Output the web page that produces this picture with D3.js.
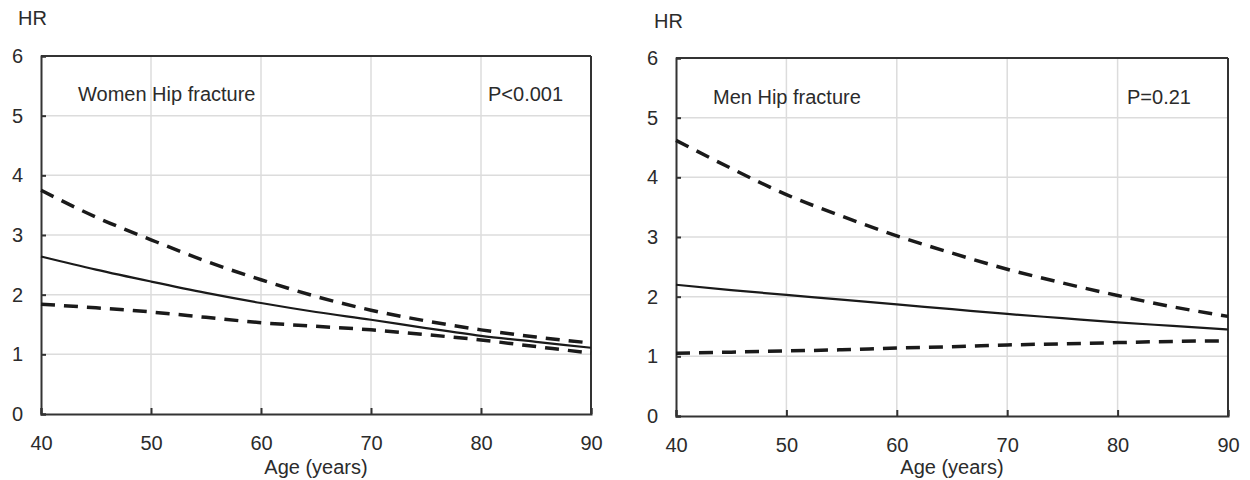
<!DOCTYPE html>
<html><head><meta charset="utf-8">
<script src="https://cdn.jsdelivr.net/npm/d3@7"></script>
<style>body{margin:0;background:#fff;} text{font-family:"Liberation Sans",Arial,sans-serif;fill:#2b2b2b;}</style>
</head><body>
<svg id="c" width="1250" height="480"></svg>
<script>
const ages = [40,45,50,55,60,65,70,75,80,85,90];
const xTicks = [40,50,60,70,80,90];
const yTicks = [0,1,2,3,4,5,6];
const womenHR    = [2.64,2.42,2.22,2.03,1.86,1.71,1.58,1.44,1.31,1.21,1.11];
const womenUpper = [3.75,3.30,2.92,2.56,2.25,1.97,1.74,1.56,1.41,1.29,1.19];
const womenLower = [1.84,1.78,1.71,1.62,1.53,1.47,1.41,1.33,1.24,1.13,1.02];
const menHR      = [2.20,2.11,2.03,1.95,1.87,1.79,1.71,1.64,1.57,1.51,1.45];
const menUpper   = [4.62,4.15,3.71,3.35,3.02,2.73,2.46,2.23,2.02,1.83,1.67];
const menLower   = [1.05,1.07,1.09,1.11,1.14,1.16,1.19,1.21,1.23,1.25,1.26];
const panels = [
  {title:"Women Hip fracture", p:"P<0.001", hr:womenHR, up:womenUpper, lo:womenLower},
  {title:"Men Hip fracture", p:"P=0.21", hr:menHR, up:menUpper, lo:menLower}
];
const layout = [
  {x0:41, x1:591, y0:414, y1:56, hrX:18, hrY:25, titleX:78, titleY:101, pX:488, pY:101},
  {x0:676, x1:1228, y0:416, y1:58, hrX:654, hrY:28, titleX:713, titleY:104, pX:1127, pY:104}
];
const FS = 20;
const svg = d3.select("#c");
panels.forEach((pd,i)=>{
  const L = layout[i];
  const x = d3.scaleLinear().domain([40,90]).range([L.x0,L.x1]);
  const y = d3.scaleLinear().domain([0,6]).range([L.y0,L.y1]);
  const g = svg.append("g");
  g.selectAll(".gx").data(xTicks.slice(1,-1)).join("line")
    .attr("x1",d=>x(d)).attr("x2",d=>x(d)).attr("y1",L.y0).attr("y2",L.y1)
    .attr("stroke","#dcdcdc").attr("stroke-width",1.5);
  g.selectAll(".gy").data(yTicks.slice(1,-1)).join("line")
    .attr("y1",d=>y(d)).attr("y2",d=>y(d)).attr("x1",L.x0).attr("x2",L.x1)
    .attr("stroke","#dcdcdc").attr("stroke-width",1.5);
  const ax = g.append("g").attr("transform",`translate(0,${L.y0})`)
    .call(d3.axisBottom(x).tickValues(xTicks).tickSize(-6).tickPadding(22).tickFormat(d3.format("d")));
  const ay = g.append("g").attr("transform",`translate(${L.x0},0)`)
    .call(d3.axisLeft(y).tickValues(yTicks).tickSize(-5).tickPadding(18).tickFormat(d3.format("d")));
  [ax,ay].forEach(a=>{
    a.attr("font-size",FS).attr("font-family","'Liberation Sans',Arial,sans-serif");
    a.select(".domain").attr("stroke","#333").attr("stroke-width",2);
    a.selectAll(".tick line").attr("stroke","#333").attr("stroke-width",2);
    a.selectAll(".tick text").attr("fill","#2b2b2b");
  });
  g.append("line").attr("x1",L.x0).attr("x2",L.x1).attr("y1",L.y1).attr("y2",L.y1).attr("stroke","#333").attr("stroke-width",2);
  g.append("line").attr("x1",L.x1).attr("x2",L.x1).attr("y1",L.y1).attr("y2",L.y0).attr("stroke","#333").attr("stroke-width",2);
  const line = d3.line().x((d,j)=>x(ages[j])).y(d=>y(d)).curve(d3.curveMonotoneX);
  g.append("path").attr("d",line(pd.up)).attr("fill","none").attr("stroke","#1a1a1a").attr("stroke-width",3.5).attr("stroke-dasharray","14,9");
  g.append("path").attr("d",line(pd.lo)).attr("fill","none").attr("stroke","#1a1a1a").attr("stroke-width",3.5).attr("stroke-dasharray","14,9");
  g.append("path").attr("d",line(pd.hr)).attr("fill","none").attr("stroke","#1a1a1a").attr("stroke-width",2.2);
  g.append("text").attr("x",L.hrX).attr("y",L.hrY).attr("font-size",FS).text("HR");
  g.append("text").attr("x",L.titleX).attr("y",L.titleY).attr("font-size",FS).text(pd.title);
  g.append("text").attr("x",L.pX).attr("y",L.pY).attr("font-size",FS).text(pd.p);
  g.append("text").attr("x",(L.x0+L.x1)/2).attr("y",474).attr("text-anchor","middle").attr("font-size",FS).text("Age (years)");
});
</script>
</body></html>
